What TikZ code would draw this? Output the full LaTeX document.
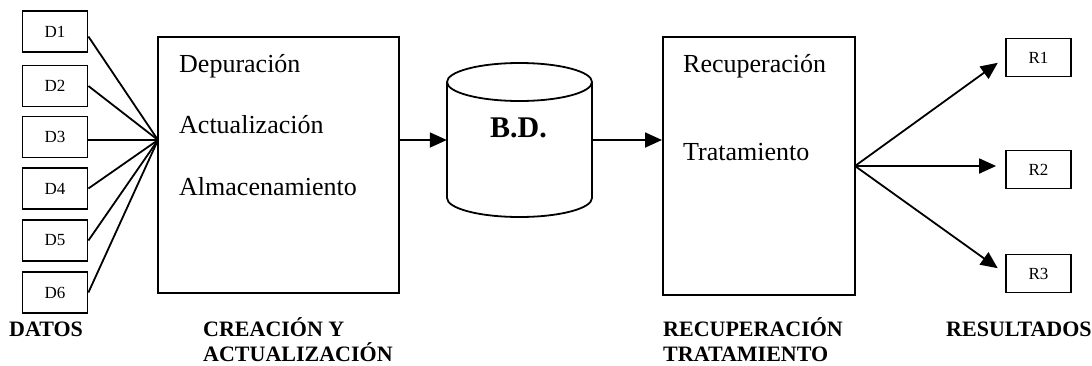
\documentclass[tikz,border=0pt]{standalone}
\usepackage{fontspec}
\setmainfont{Liberation Serif}
\usetikzlibrary{arrows.meta,positioning,calc}

\begin{document}
\begin{tikzpicture}[x=1pt, y=-1pt,
    dbox/.style={rectangle, draw, line width=1.8pt, minimum width=65pt, minimum height=41pt, inner sep=0pt, font=\fontsize{17}{20}\selectfont},
    rbox/.style={rectangle, draw, line width=1.8pt, minimum width=65pt, minimum height=38pt, inner sep=0pt, font=\fontsize{17}{20}\selectfont},
    process/.style={rectangle, draw, line width=2pt, inner sep=0pt},
    item/.style={anchor=base west, inner sep=0pt, font=\fontsize{26}{30}\selectfont},
    caption/.style={anchor=base west, inner sep=0pt, align=left, font=\fontsize{22}{25}\selectfont\bfseries},
    link/.style={line width=1.8pt},
    arrow/.style={-{Triangle[length=17pt, width=15pt]}, line width=1.8pt}
]
\useasboundingbox (0,0) rectangle (1092,365);

% Data inputs
\node[dbox] (d1) at (55,31.5) {D1};
\node[dbox] (d2) at (55,86) {D2};
\node[dbox] (d3) at (55,137) {D3};
\node[dbox] (d4) at (55,188.5) {D4};
\node[dbox] (d5) at (55,240.5) {D5};
\node[dbox] (d6) at (55,292.5) {D6};
\node[caption] (datos) at (9,336) {DATOS};

% Creation and update
\node[process, minimum width=241pt, minimum height=256pt] (crea) at (278.5,165) {};
\node[item] (depu) at (179,72) {Depuración};
\node[item] (actu) at (179,133) {Actualización};
\node[item] (alma) at (179,195) {Almacenamiento};
\node[caption] (creacap) at (203,361) {CREACIÓN Y\\ACTUALIZACIÓN};
\coordinate (fanin) at (158,140);

% Database
\node[minimum width=145pt, minimum height=155pt, inner sep=0pt] (bd) at (519.5,140) {};
\draw[link] (447,82) -- (447,198) arc[start angle=180, end angle=0, x radius=72.5, y radius=19] -- (592,82);
\draw[link] (519.5,82) ellipse[x radius=72.5, y radius=19];
\node[font=\fontsize{30}{36}\selectfont\bfseries, anchor=base, inner sep=0pt] (bdlabel) at (518.5,137) {B.D.};

% Retrieval and processing
\node[process, minimum width=192pt, minimum height=258pt] (recu) at (759,166) {};
\node[item] (recup) at (683,72) {Recuperación};
\node[item] (trata) at (683,160) {Tratamiento};
\node[caption] (recucap) at (663,361) {RECUPERACIÓN\\TRATAMIENTO};
\coordinate (fanout) at (855,166);

% Results
\node[rbox] (r1) at (1038.5,57.5) {R1};
\node[rbox] (r2) at (1038.5,169.5) {R2};
\node[rbox] (r3) at (1038.5,273.5) {R3};
\node[caption] (resul) at (946,336) {RESULTADOS};

% Connections
\draw[link] ($(d1.east)+(0,5)$) -- (fanin);
\draw[link] (d2.east) -- (fanin);
\draw[link] (d3.east |- fanin) -- (fanin);
\draw[link] (d4.east) -- (fanin);
\draw[link] (d5.east) -- (fanin);
\draw[link] (d6.east) -- (fanin);
\draw[arrow] (crea.east |- bd.west) -- (bd.west);
\draw[arrow] (bd.east) -- (recu.west |- bd.east);
\draw[arrow, shorten >=9pt] (fanout) -- (r1.west);
\draw[arrow, shorten >=9pt] (fanout) -- (fanout -| r2.west);
\draw[arrow, shorten >=9pt] (fanout) -- (r3.west);

\end{tikzpicture}
\end{document}
